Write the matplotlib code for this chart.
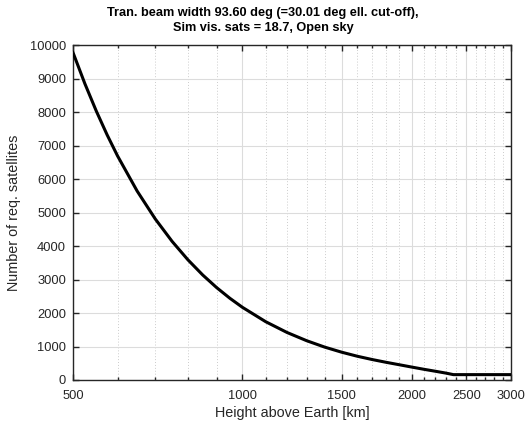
"""
Required number of satellites versus orbit height, open sky case.
"""

import matplotlib
matplotlib.use("Agg")
import matplotlib.pyplot as plt
from matplotlib.ticker import FixedLocator, NullFormatter

plt.rcParams['font.family'] = ['Liberation Sans', 'DejaVu Sans']

# height above earth [km] and number of satellites
height_km = [500, 525, 550, 575, 600, 650, 700, 750, 800, 850, 900, 950, 1000,
             1100, 1200, 1300, 1400, 1500, 1600, 1700, 1800, 1900, 2000,
             2100, 2200, 2300, 2370, 2500, 2700, 3000]
n_sats = [9780, 8845, 8031, 7318, 6691, 5643, 4810, 4139, 3590, 3136, 2758, 2440, 2170,
          1740, 1419, 1174, 982, 831, 709, 611, 528, 455, 385,
          320, 262, 205, 160, 160, 160, 160]

x_ticks = [500, 1000, 1500, 2000, 2500, 3000]
x_minor = [h for h in range(600, 3000, 100) if h not in x_ticks]
y_ticks = list(range(0, 10001, 1000))

title = "Tran. beam width 93.60 deg (=30.01 deg ell. cut-off),\nSim vis. sats = 18.7, Open sky"

fig = plt.figure(figsize=(5.29, 4.26), dpi=100)
ax = fig.add_axes([0.138, 0.108, 0.828, 0.786])

ax.plot(height_km, n_sats, color="black", linewidth=2.2, zorder=3,
        solid_joinstyle="round")

ax.set_xscale("log")
ax.set_xlim(500, 3000)
ax.set_ylim(0, 10000)
ax.xaxis.set_major_locator(FixedLocator(x_ticks))
ax.xaxis.set_minor_locator(FixedLocator(x_minor))
ax.set_xticklabels([str(t) for t in x_ticks])
ax.xaxis.set_minor_formatter(NullFormatter())
ax.set_yticks(y_ticks)

# MATLAB-like look: box, inward ticks, light grid
dark = "#262626"
ax.grid(True, which="major", color="#dcdcdc", linewidth=0.8, linestyle="-", zorder=0)
ax.grid(True, which="minor", axis="x", color="#cccccc", linewidth=0.7,
        linestyle=(0, (1, 2)), zorder=0)
ax.tick_params(which="both", direction="in", top=True, right=True,
               colors=dark, labelsize=9.3)
ax.tick_params(axis="x", which="both", pad=7)
ax.tick_params(axis="y", which="both", pad=5)
ax.tick_params(which="major", length=4, width=1.0)
ax.tick_params(which="minor", length=2.5, width=1.0)
for s in ax.spines.values():
    s.set_color(dark)
    s.set_linewidth(1.0)

ax.set_xlabel("Height above Earth [km]", fontsize=10.4, color=dark, labelpad=3)
ax.set_ylabel("Number of req. satellites", fontsize=10.4, color=dark, labelpad=6)
fig.text(0.497, 0.984, title, fontsize=9.2, fontweight="bold", color="black",
         ha="center", va="top", linespacing=1.3)

fig.savefig("out.png", dpi=100)
